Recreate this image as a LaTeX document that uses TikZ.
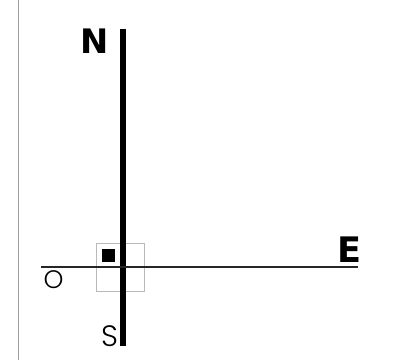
\documentclass[tikz,border=0pt]{standalone}
\usepackage{fontspec}
\newfontfamily\heavyfont{DejaVu Sans}[UprightFont=* Bold]
\newfontfamily\thinfont{Poppins}[UprightFont=* Light]

\begin{document}
\begin{tikzpicture}[
  cardinal/.style={inner sep=0pt, font=\heavyfont\fontsize{24}{25}\selectfont},
  minor/.style={inner sep=0pt, font=\thinfont\fontsize{18}{19}\selectfont},
  frame/.style={draw=gray!75, line width=0.7pt},
  axisns/.style={line width=4.3pt},
  axiswe/.style={draw=black!85, line width=1.4pt}
]
\useasboundingbox (0,0) rectangle (10,9);

\draw[frame] (0.45,0) -- (0.45,9);

\coordinate (ntop) at (3.075,8.275);
\coordinate (sbot) at (3.075,0.35);
\coordinate (wend) at (1.025,2.3175);
\coordinate (eend) at (8.95,2.3175);

\node[draw=gray!55, line width=0.7pt, minimum size=1.2cm, inner sep=0pt] (cell) at (3.0,2.325) {};
\node[fill=black, minimum size=0.325cm, inner sep=0pt] (mark) at (2.7125,2.6125) {};

\draw[axisns] (ntop) -- (sbot);
\draw[axiswe] (wend) -- (eend);

\node[cardinal]                              (north) at (2.375,7.975) {N};
\node[cardinal, font=\heavyfont\fontsize{25}{26}\selectfont] (east)  at (8.725,2.7625) {E};
\node[minor]                                 (west)  at (1.34,2.0) {O};
\node[minor, font=\thinfont\fontsize{21}{22}\selectfont]   (south) at (2.7375,0.6) {S};
\end{tikzpicture}
\end{document}
